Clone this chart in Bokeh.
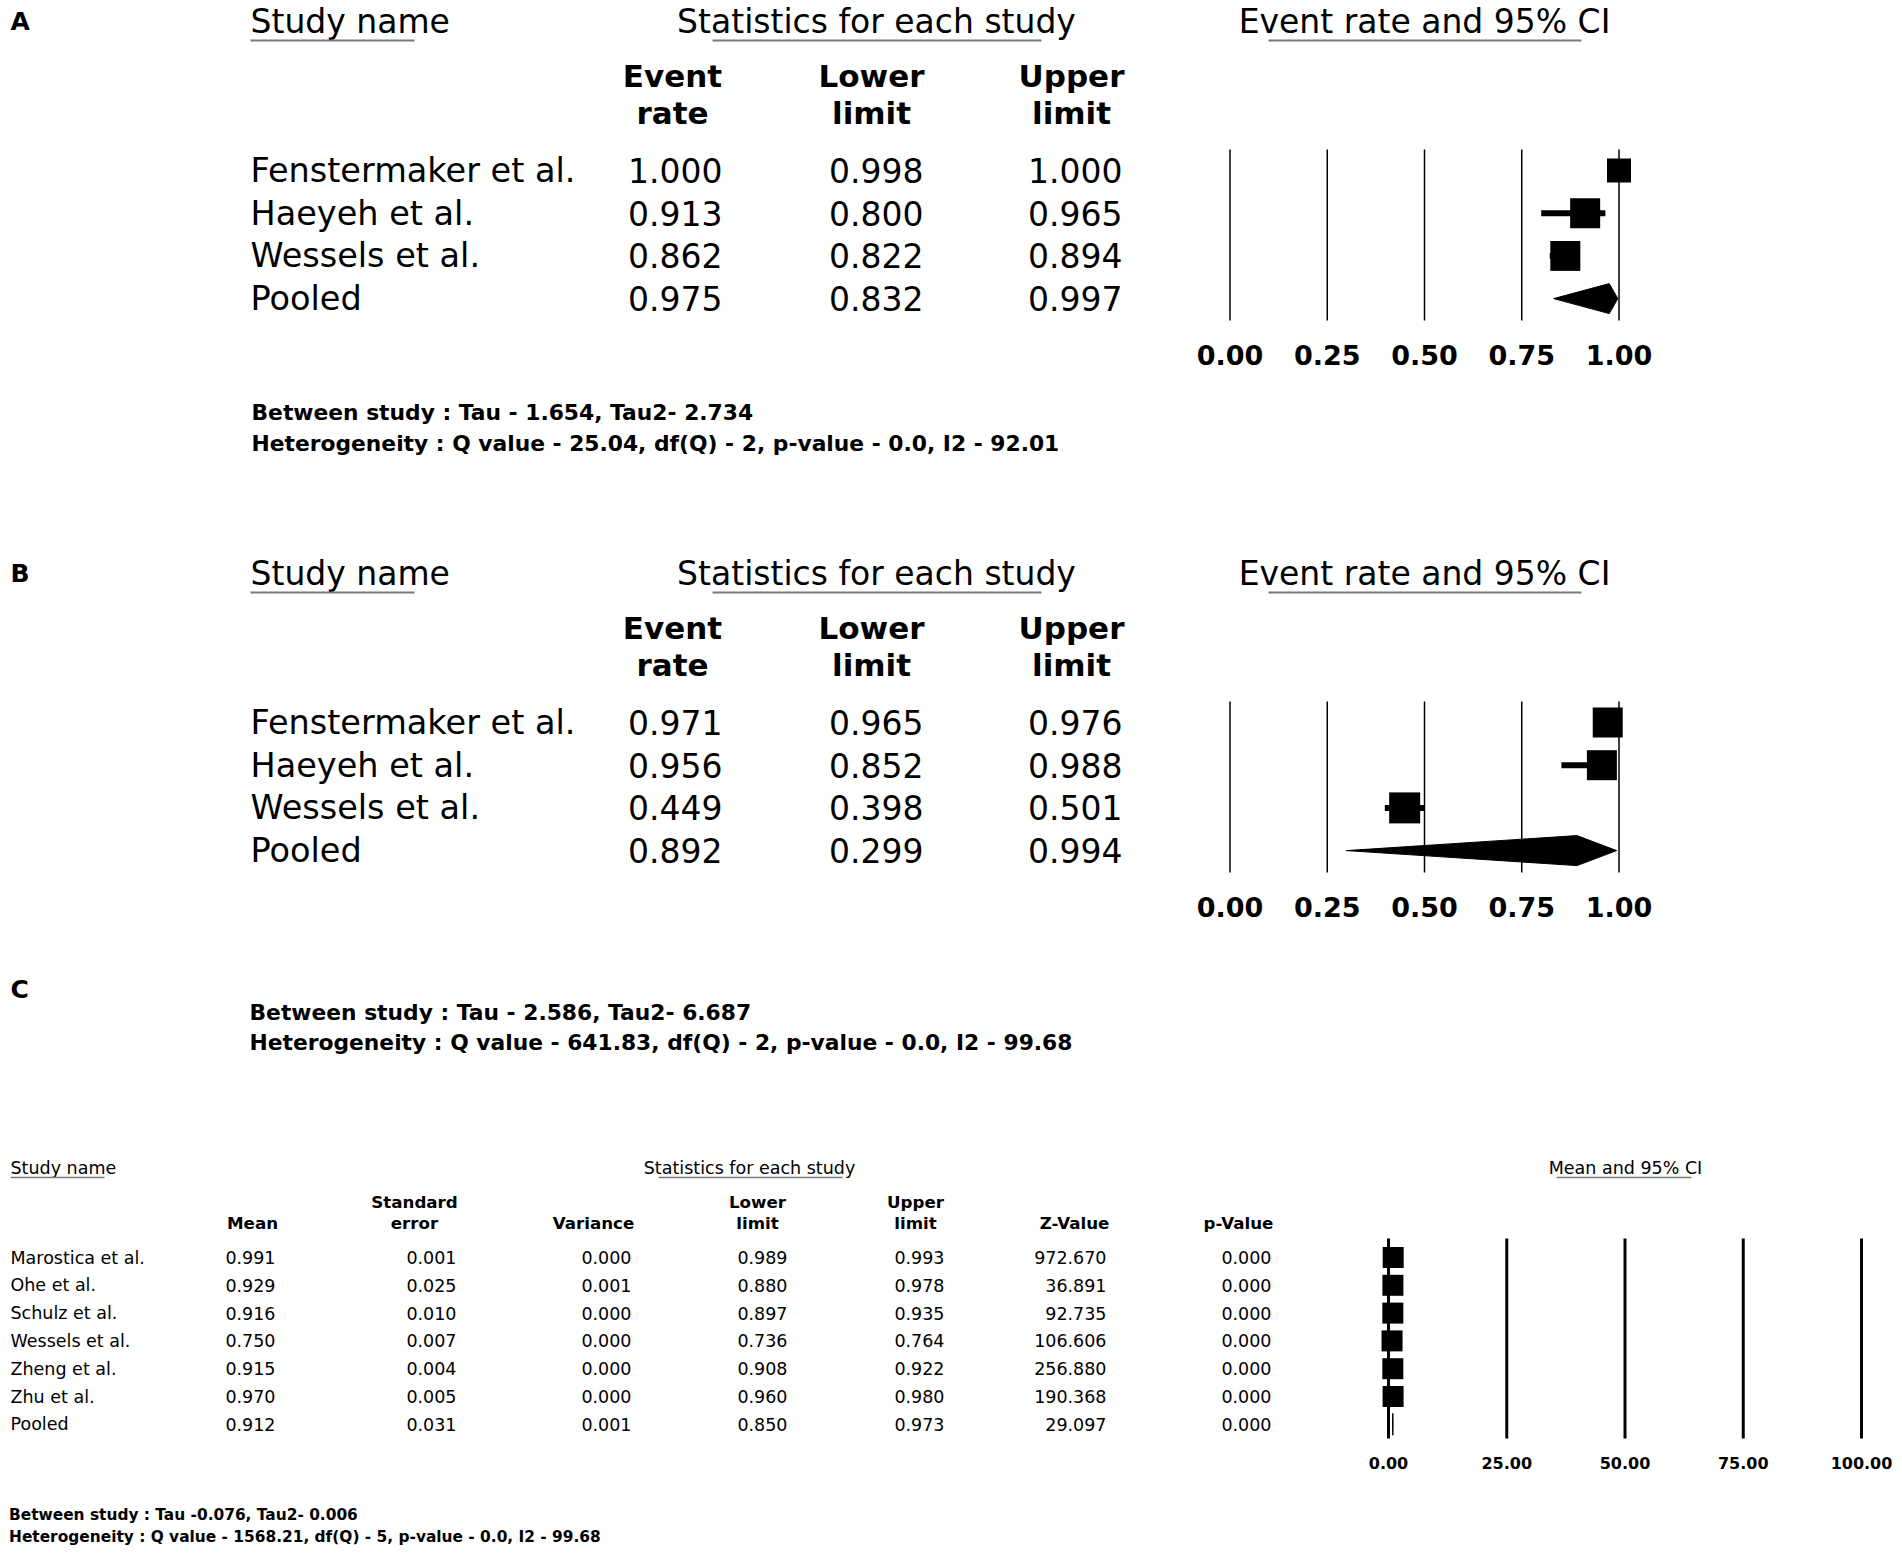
from bokeh.plotting import figure
from bokeh.models import Range1d
from bokeh.core.properties import value
from bokeh.embed import file_html
from bokeh.resources import INLINE

FONT = "DejaVu Sans"

# ---------------- data ----------------
ab_studies = ["Fenstermaker et al.", "Haeyeh et al.", "Wessels et al.", "Pooled"]
ab_head_top = ["Event", "Lower", "Upper"]
ab_head_bot = ["rate", "limit", "limit"]
ab_ticks = [0.00, 0.25, 0.50, 0.75, 1.00]

a_rate = [1.000, 0.913, 0.862, 0.975]
a_lower = [0.998, 0.800, 0.822, 0.832]
a_upper = [1.000, 0.965, 0.894, 0.997]
a_between = "Between study : Tau - 1.654, Tau2- 2.734"
a_het = "Heterogeneity : Q value - 25.04, df(Q) - 2, p-value - 0.0, I2 - 92.01"

b_rate = [0.971, 0.956, 0.449, 0.892]
b_lower = [0.965, 0.852, 0.398, 0.299]
b_upper = [0.976, 0.988, 0.501, 0.994]
b_between = "Between study : Tau - 2.586, Tau2- 6.687"
b_het = "Heterogeneity : Q value - 641.83, df(Q) - 2, p-value - 0.0, I2 - 99.68"

c_studies = ["Marostica et al.", "Ohe et al.", "Schulz et al.", "Wessels et al.",
             "Zheng et al.", "Zhu et al.", "Pooled"]
c_mean = [0.991, 0.929, 0.916, 0.750, 0.915, 0.970, 0.912]
c_se = [0.001, 0.025, 0.010, 0.007, 0.004, 0.005, 0.031]
c_var = [0.000, 0.001, 0.000, 0.000, 0.000, 0.000, 0.001]
c_lower = [0.989, 0.880, 0.897, 0.736, 0.908, 0.960, 0.850]
c_upper = [0.993, 0.978, 0.935, 0.764, 0.922, 0.980, 0.973]
c_z = [972.670, 36.891, 92.735, 106.606, 256.880, 190.368, 29.097]
c_p = [0.000, 0.000, 0.000, 0.000, 0.000, 0.000, 0.000]
c_head_top = ["", "Standard", "", "Lower", "Upper", "", ""]
c_head_bot = ["Mean", "error", "Variance", "limit", "limit", "Z-Value", "p-Value"]
c_ticks = [0.0, 25.0, 50.0, 75.0, 100.0]
c_between = "Between study : Tau -0.076, Tau2- 0.006"
c_het = "Heterogeneity : Q value - 1568.21, df(Q) - 5, p-value - 0.0, I2 - 99.68"

# ---------------- canvas ----------------
W, H = 1900, 1552
p = figure(width=W, height=H, x_range=Range1d(0, W), y_range=Range1d(H, 0),
           output_backend="svg", toolbar_location=None, min_border=0,
           x_axis_location=None, y_axis_location=None)
p.grid.visible = False
p.outline_line_color = None
p.background_fill_color = "white"
p.border_fill_color = "white"


def lin_range(px0, px_per_unit):
    return Range1d((0 - px0) / px_per_unit, (W - px0) / px_per_unit)


p.extra_x_ranges = {"ab": lin_range(1229.5, 389.0), "c": lin_range(1388.0, 4.73)}


def txt(xs, ys, texts, size, bold=False, align="left", rng="default"):
    p.text(x=xs, y=ys, text=texts, text_font=value(FONT), text_font_size=f"{size}px",
           text_font_style="bold" if bold else "normal", text_align=align,
           text_baseline="middle", text_color="black", x_range_name=rng)


def uline(x0, x1, y, w=2):
    p.segment(x0=[x0], y0=[y], x1=[x1], y1=[y], line_color="#7a7a7a", line_width=w)


def draw_ab(off, rate, lower, upper, sq, letter):
    n = len(ab_studies)
    rows = [170 + off + 42.7 * i for i in range(n)]
    txt([10], [21 + off], [letter], 25, bold=True)
    txt([250], [21 + off], ["Study name"], 33)
    uline(250, 414, 40 + off)
    txt([876], [21 + off], ["Statistics for each study"], 33, align="center")
    uline(712, 1041, 40 + off)
    txt([1424], [21 + off], ["Event rate and 95% CI"], 33, align="center")
    uline(1268, 1581, 40 + off)
    hc = [672, 871, 1071]
    txt(hc, [75 + off] * 3, ab_head_top, 31, bold=True, align="center")
    txt(hc, [112 + off] * 3, ab_head_bot, 31, bold=True, align="center")
    txt([250] * n, rows, ab_studies, 33.5)
    for xr, vals in zip([722, 923, 1122], [rate, lower, upper]):
        txt([xr] * n, rows, [f"{v:.3f}" for v in vals], 33, align="right")
    # forest
    p.segment(x0=ab_ticks, x1=ab_ticks, y0=[149 + off] * 5, y1=[320 + off] * 5,
              line_color="black", line_width=1.5, x_range_name="ab")
    k = n - 1
    p.segment(x0=lower[:k], x1=upper[:k], y0=rows[:k], y1=rows[:k],
              line_color="black", line_width=6, x_range_name="ab")
    p.scatter(x=rate[:k], y=rows[:k], size=sq, marker="square",
              fill_color="black", line_color=None, x_range_name="ab")
    yp, h = rows[k], 15
    p.patch(x=[lower[k], rate[k], upper[k], rate[k]], y=[yp, yp - h, yp, yp + h],
            fill_color="black", line_color="black", line_width=1, x_range_name="ab")
    txt(ab_ticks, [354 + off] * 5, [f"{t:.2f}" for t in ab_ticks], 27, bold=True,
        align="center", rng="ab")


draw_ab(0, a_rate, a_lower, a_upper, [24, 30, 30], "A")
txt([251], [412], [a_between], 21.8, bold=True)
txt([251], [443], [a_het], 21.8, bold=True)

draw_ab(552, b_rate, b_lower, b_upper, [30, 30, 31], "B")
txt([10], [989], ["C"], 25, bold=True)
txt([249], [1012], [b_between], 21.8, bold=True)
txt([249], [1042], [b_het], 21.8, bold=True)

# ---------------- panel C ----------------
n = len(c_studies)
rows = [1257 + 27.8 * i for i in range(n)]
txt([10], [1167], ["Study name"], 17.5)
uline(10, 104, 1177, 1.6)
txt([749], [1167], ["Statistics for each study"], 17.5, align="center")
uline(658, 842, 1177, 1.6)
txt([1625], [1167], ["Mean and 95% CI"], 17.5, align="center")
uline(1556, 1691, 1177, 1.6)
hc = [252, 414, 593, 757, 915, 1074, 1238]
txt(hc, [1201] * 7, c_head_top, 16.7, bold=True, align="center")
txt(hc, [1222] * 7, c_head_bot, 16.7, bold=True, align="center")
txt([10] * n, rows, c_studies, 17.5)
for xr, vals in zip([275, 456, 631, 787, 944, 1106, 1271],
                    [c_mean, c_se, c_var, c_lower, c_upper, c_z, c_p]):
    txt([xr] * n, rows, [f"{v:.3f}" for v in vals], 17.5, align="right")

p.segment(x0=c_ticks, x1=c_ticks, y0=[1238] * 5, y1=[1438] * 5,
          line_color="black", line_width=3, x_range_name="c")
k = n - 1
p.segment(x0=c_lower[:k], x1=c_upper[:k], y0=rows[:k], y1=rows[:k],
          line_color="black", line_width=4, x_range_name="c")
p.scatter(x=c_mean[:k], y=rows[:k], size=21, marker="square",
          fill_color="black", line_color=None, x_range_name="c")
yp, h = rows[k], 11
p.patch(x=[c_lower[k], c_mean[k], c_upper[k], c_mean[k]], y=[yp, yp - h, yp, yp + h],
        fill_color="black", line_color="black", line_width=1, x_range_name="c")
txt(c_ticks, [1462] * 5, [f"{t:.2f}" for t in c_ticks], 16, bold=True,
    align="center", rng="c")

txt([8.5], [1514], [c_between], 15.4, bold=True)
txt([8.5], [1536], [c_het], 15.4, bold=True)

open("out.html", "w").write(file_html(p, INLINE))
